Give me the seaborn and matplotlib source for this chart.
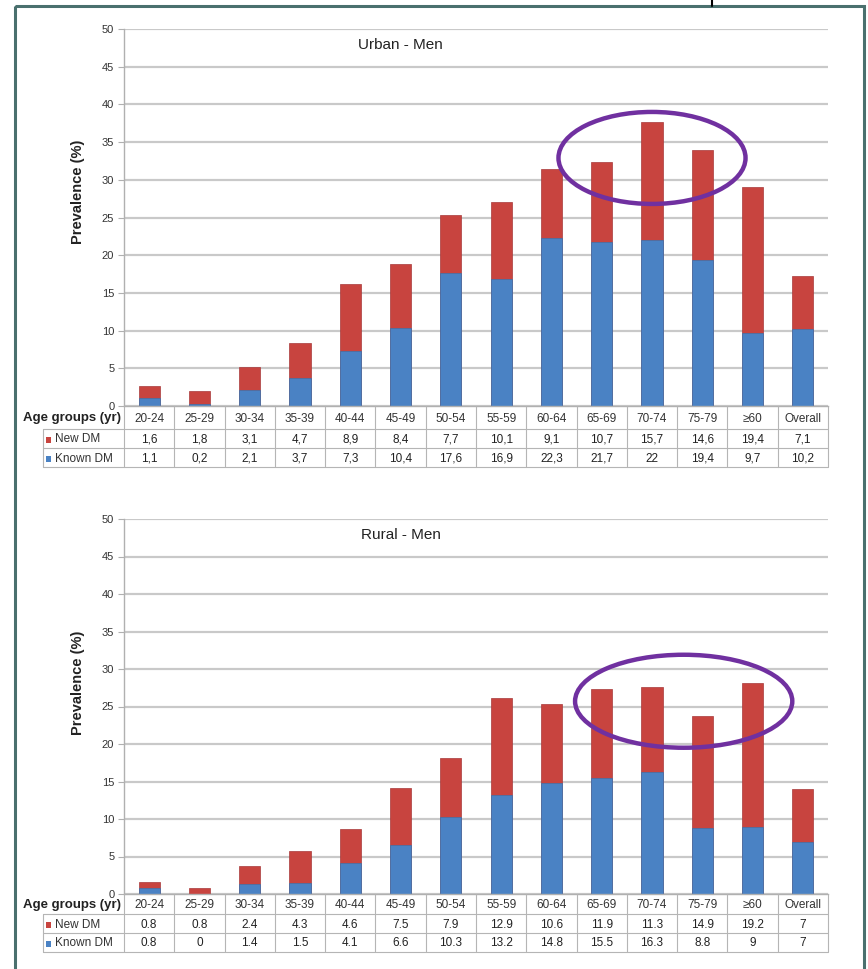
import matplotlib
matplotlib.use("Agg")
import matplotlib.pyplot as plt
import pandas as pd
import seaborn as sns
from matplotlib.patches import Ellipse, Rectangle
from matplotlib.transforms import blended_transform_factory

# ---- data -------------------------------------------------------------
age_groups = ["20-24", "25-29", "30-34", "35-39", "40-44", "45-49", "50-54",
              "55-59", "60-64", "65-69", "70-74", "75-79", "\u226560", "Overall"]
urban_new = [1.6, 1.8, 3.1, 4.7, 8.9, 8.4, 7.7, 10.1, 9.1, 10.7, 15.7, 14.6, 19.4, 7.1]
urban_known = [1.1, 0.2, 2.1, 3.7, 7.3, 10.4, 17.6, 16.9, 22.3, 21.7, 22, 19.4, 9.7, 10.2]
rural_new = [0.8, 0.8, 2.4, 4.3, 4.6, 7.5, 7.9, 12.9, 10.6, 11.9, 11.3, 14.9, 19.2, 7]
rural_known = [0.8, 0, 1.4, 1.5, 4.1, 6.6, 10.3, 13.2, 14.8, 15.5, 16.3, 8.8, 9, 7]
series_names = ["New DM", "Known DM"]
panel_titles = ["Urban - Men", "Rural - Men"]
y_ticks = [0, 5, 10, 15, 20, 25, 30, 35, 40, 45, 50]

RED = "#C8443F"
BLUE = "#4A82C4"
PURPLE = "#7030A0"
GRID = "#c9c9c9"
TABLE_LINE = "#b5b5b5"
FRAME = "#4a706e"

W, H = 868, 969
sns.set_theme(style="white")
NARROW = ["Liberation Sans Narrow", "Liberation Sans", "DejaVu Sans"]
REGULAR = ["Liberation Sans", "DejaVu Sans"]
plt.rcParams["font.family"] = NARROW

fig = plt.figure(figsize=(W / 100, H / 100), dpi=100)
fig.patch.set_facecolor("white")


def fmt(v, sep):
    s = f"{v:g}"
    return s.replace(".", sep)


panels = [
    dict(title=panel_titles[0], new=urban_new, known=urban_known, y50=29, y0=406,
         rows=[406, 429, 448, 467], sep=",", title_xy=(5.0, 47.9),
         ell=(10.0, 32.9, 3.72, 12.2), ylab_y=0.567),
    dict(title=panel_titles[1], new=rural_new, known=rural_known, y50=519, y0=894,
         rows=[894, 914, 933, 952], sep=".", title_xy=(5.0, 47.9),
         ell=(10.63, 25.7, 4.32, 12.4), ylab_y=0.563),
]

LEFT, RIGHT = 124, 828

# pixel overlay used for the frame and data-table text
overlay = fig.add_axes([0, 0, 1, 1], zorder=5)
overlay.set_xlim(0, W)
overlay.set_ylim(H, 0)
overlay.axis("off")
overlay.patch.set_alpha(0)

for p in panels:
    ax = fig.add_axes([LEFT / W, 1 - p["y0"] / H, (RIGHT - LEFT) / W,
                       (p["y0"] - p["y50"]) / H])
    df = pd.DataFrame({"group": age_groups, "new": p["new"], "known": p["known"]})
    df["total"] = df["new"] + df["known"]

    # stacked columns: full height in red, known share overlaid in blue
    sns.barplot(data=df, x="group", y="total", color=RED, saturation=1,
                width=0.42, edgecolor="#a8393a", linewidth=0.5, ax=ax)
    sns.barplot(data=df, x="group", y="known", color=BLUE, saturation=1,
                width=0.42, edgecolor="#3f70aa", linewidth=0.5, ax=ax)

    ax.set_xlim(-0.5, len(age_groups) - 0.5)
    ax.set_ylim(0, 50)
    ax.set_yticks(y_ticks)
    ax.set_xticks([])
    ax.set_xlabel("")
    ax.set_ylabel("")
    ax.yaxis.grid(True, color=GRID, lw=1.6)
    ax.set_axisbelow(True)
    for side in ("top", "right"):
        ax.spines[side].set_visible(False)
    ax.spines["left"].set_color("#b0b0b0")
    ax.spines["bottom"].set_color("#b0b0b0")
    ax.spines["left"].set_linewidth(1.0)
    ax.spines["bottom"].set_linewidth(1.0)
    ax.tick_params(axis="y", length=4, width=0.8, color="#b0b0b0",
                   labelsize=8, labelcolor="#333333", pad=3, left=True)
    ax.patch.set_alpha(0)

    ax.text(*p["title_xy"], p["title"], ha="center", va="center", fontsize=11,
            color="#222222", family=REGULAR)
    ax.text(-0.066, p["ylab_y"], "Prevalence (%)", rotation=90, ha="center",
            va="center", fontsize=10.5, fontweight="bold", transform=ax.transAxes,
            color="#222222", family=REGULAR)

    cx, cy, ew, eh = p["ell"]
    ax.add_patch(Ellipse((cx, cy), ew, eh, fill=False, ec=PURPLE, lw=3.2,
                         clip_on=False, zorder=6))

    # ---- data table under the axis -----------------------------------
    r = p["rows"]
    tr = blended_transform_factory(ax.transData, overlay.transData)
    ncat = len(age_groups)
    for i in range(ncat + 1):
        overlay.plot([i - 0.5, i - 0.5], [r[0], r[3]], color=TABLE_LINE, lw=0.8,
                     transform=tr, solid_capstyle="butt")
    for yy in r[1:]:
        overlay.plot([43, RIGHT], [yy, yy], color=TABLE_LINE, lw=0.8)
    overlay.plot([43, 43], [r[1], r[3]], color=TABLE_LINE, lw=0.8)

    mids = [(r[k] + r[k + 1]) / 2 + 1 for k in range(3)]
    overlay.text(121, mids[0], "Age groups (yr)", ha="right", va="center",
                 fontsize=9.5, fontweight="bold", color="#222222", family=REGULAR)
    for k, (name, col) in enumerate(zip(series_names, [RED, BLUE])):
        overlay.add_patch(Rectangle((46, mids[k + 1] - 3), 5, 6, color=col, lw=0))
        overlay.text(55, mids[k + 1], name, ha="left", va="center", fontsize=8.5,
                     color="#333333")
    for i, g in enumerate(age_groups):
        overlay.text(i, mids[0], g, ha="center", va="center", fontsize=8.5,
                     color="#333333", transform=tr)
        overlay.text(i, mids[1], fmt(p["new"][i], p["sep"]), ha="center",
                     va="center", fontsize=8.5, color="#222222", transform=tr)
        overlay.text(i, mids[2], fmt(p["known"][i], p["sep"]), ha="center",
                     va="center", fontsize=8.5, color="#222222", transform=tr)

# outer frame
overlay.add_patch(Rectangle((15, 6), 849, 1000, fill=False, ec=FRAME, lw=2.2))
overlay.plot([712, 712], [0, 6], color="black", lw=1.5)

fig.savefig("out.png", dpi=100)
